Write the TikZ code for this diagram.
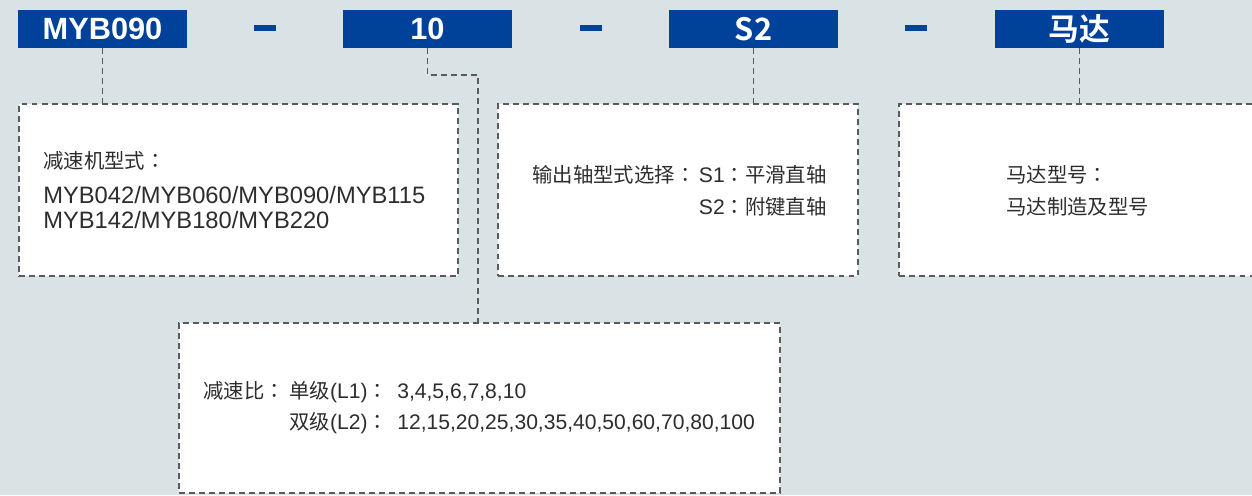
\documentclass[tikz,border=0pt]{standalone}
\usepackage{fontspec}
\setmainfont{Liberation Sans}
\newfontfamily\cjk{Noto Sans CJK SC}[BoldFont={Noto Sans CJK SC Bold}]
\newfontfamily\cjkcolon{Noto Sans CJK TC}
\newcommand{\zhtext}[1]{{\cjk\fontsize{11.6}{14.2}\selectfont #1}}
\newcommand{\zhcolon}{{\cjkcolon\fontsize{11.6}{14.2}\selectfont ：}}
\definecolor{codeblue}{RGB}{0,65,154}
\definecolor{panelgray}{RGB}{217,226,228}
\definecolor{textgray}{RGB}{45,45,45}
\definecolor{linegray}{RGB}{90,90,90}
\usetikzlibrary{fit,positioning}

\begin{document}
\begin{tikzpicture}[x=0.02cm,y=-0.02cm,
    codebox/.style={fill=codeblue,inner sep=0pt},
    codetext/.style={text=white,inner sep=0pt,font=\bfseries\fontsize{17.5}{20}\selectfont},
    infobox/.style={draw=linegray,fill=white,line width=0.7pt,dash pattern=on 3.4pt off 2.3pt,inner sep=0pt},
    link/.style={draw=linegray,line width=0.7pt,dash pattern=on 3.4pt off 2.3pt},
    infotext/.style={text=textgray,inner sep=0pt,font=\fontsize{12}{14.2}\selectfont}]
        % page and background
        \useasboundingbox (0,0) rectangle (1252,495);
        \clip (0,0) rectangle (1252,495);
        \fill[panelgray] (0,0) rectangle (1252,495);
        % code fields
        \node[codebox,fit={(18,10) (187,48)},label={[codetext]center:MYB090}] (hmodel) {};
        \node[codebox,fit={(343,10) (512,48)},label={[codetext]center:10}] (hratio) {};
        \node[codebox,fit={(669,10) (838,48)},label={[codetext]center:\cjk S2}] (hshaft) {};
        \node[codebox,fit={(995,10) (1164,48)},label={[codetext]center:\cjk 马达}] (hmotor) {};
        \foreach \x in {254,580,905}
            \fill[codeblue] (\x,25) rectangle ++(22,6);
        % explanation boxes
        \node[infobox,fit={(19,104) (458,276)}] (bmodel) {};
        \node[infobox,fit={(498,104) (858,276)}] (bshaft) {};
        \node[infobox,fit={(899,104) (1290,276)}] (bmotor) {};
        \node[infobox,fit={(179,323) (780,493)}] (bratio) {};
        % dashed leaders
        \coordinate (rbend) at (478,75);
        \draw[link] (hmodel.south) -- (hmodel.south |- bmodel.north);
        \draw[link] (hratio.south) |- (rbend) -- (rbend |- bratio.north);
        \draw[link] (hshaft.south) -- (hshaft.south |- bshaft.north);
        \draw[link] (hmotor.south) -- (hmotor.south |- bmotor.north);
        % texts
        \node[infotext,anchor=west,align=left,font=\fontsize{13.5}{14.2}\selectfont] (tmodel) at (43,190)
            {\zhtext{减速机型式}\zhcolon\\[5.7pt]MYB042/MYB060/MYB090/MYB115\\MYB142/MYB180/MYB220};
        \node[infotext,anchor=east,align=right] (tshaft) at (827,191)
            {\zhtext{输出轴型式选择}\zhcolon\,S1\zhcolon\zhtext{平滑直轴}\\[3.9pt]S2\zhcolon\zhtext{附键直轴}};
        \node[infotext,anchor=west,align=left] (tmotor) at (1006,190.5)
            {\zhtext{马达型号}\zhcolon\\[3.9pt]\zhtext{马达制造及型号}};
        \node[infotext,anchor=west] (tratio) at (203,409)
            {\begin{tabular}{@{}p{1.72cm}@{}p{2.16cm}@{}l@{}}
             \zhtext{减速比}\zhcolon & \zhtext{单级}(L1)\zhcolon & 3,4,5,6,7,8,10\\[3.9pt]
             & \zhtext{双级}(L2)\zhcolon & 12,15,20,25,30,35,40,50,60,70,80,100
             \end{tabular}};
      \end{tikzpicture}
\end{document}
